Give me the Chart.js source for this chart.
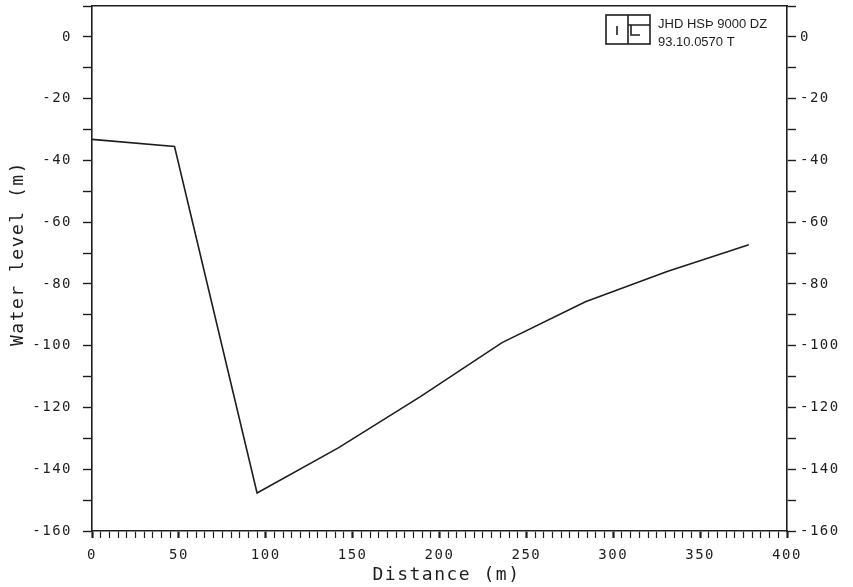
<!DOCTYPE html>
<html>
<head>
<meta charset="utf-8">
<script src="https://cdn.jsdelivr.net/npm/chart.js@4/dist/chart.umd.min.js"></script>
<style>
html,body{margin:0;padding:0;background:#fff;}
#wrap{width:853px;height:587px;}
</style>
</head>
<body>
<div id="wrap"><canvas id="c" width="853" height="587"></canvas></div>
<script>
const distances = [0, 47.5, 95, 142, 189, 236, 284, 331, 378];
const waterLevels = [-33.2, -35.5, -147.7, -133, -116.5, -99, -85.8, -76, -67.3];
const xTickLabelsEvery = 50;
const yTickLabelsEvery = 20;
const xTitle = 'Distance (m)';
const yTitle = 'Water level (m)';
const stampLine1 = 'JHD HSÞ 9000 DZ';
const stampLine2 = '93.10.0570 T';

const MONO = '"DejaVu Sans Mono", monospace';
const INK = '#1e1e1e';

function shiftTitle(scale, dx, dy) {
  if (scale._shifted) return;
  const orig = scale.drawTitle.bind(scale);
  scale.drawTitle = function () {
    const ctx = this.ctx;
    ctx.save();
    ctx.translate(dx, dy);
    orig();
    ctx.restore();
  };
  scale._shifted = true;
}

const spacingPlugin = {
  id: 'spacing',
  afterLayout(chart) {
    shiftTitle(chart.scales.y, 0, -15);
    shiftTitle(chart.scales.x, 7, 0);
  },
  beforeDraw(chart) {
    chart.ctx.fillStyle = '#fff';
    chart.ctx.fillRect(0, 0, chart.width, chart.height);
    chart.ctx.letterSpacing = '1.5px';
  },
  afterDraw(chart) {
    const ctx = chart.ctx;
    ctx.save();
    ctx.letterSpacing = '0px';
    ctx.strokeStyle = INK;
    ctx.lineWidth = 1.6;
    // stamp logo
    ctx.strokeRect(606, 15, 44, 29);
    ctx.beginPath();
    ctx.moveTo(628, 15); ctx.lineTo(628, 44);
    ctx.moveTo(617, 26); ctx.lineTo(617, 35);
    ctx.moveTo(628, 25); ctx.lineTo(650, 25);
    ctx.moveTo(631, 25); ctx.lineTo(631, 35);
    ctx.lineTo(640, 35);
    ctx.stroke();
    ctx.fillStyle = INK;
    ctx.font = '13px "Liberation Sans", Arial, sans-serif';
    ctx.textBaseline = 'middle';
    ctx.textAlign = 'left';
    ctx.fillText(stampLine1, 658, 24);
    ctx.fillText(stampLine2, 658, 42);
    ctx.restore();
  }
};

const points = distances.map((d, i) => ({x: d, y: waterLevels[i]}));

function fixV(w) {
  return function (s) { s.width = w; s.paddingTop = 0; s.paddingBottom = 0; };
}
function fixH(h) {
  return function (s) { s.height = h; s.paddingLeft = 0; s.paddingRight = 0; };
}

new Chart(document.getElementById('c'), {
  type: 'line',
  data: {
    datasets: [{
      data: points,
      borderColor: INK,
      borderWidth: 1.6,
      pointRadius: 0,
      tension: 0,
      fill: false,
      xAxisID: 'x',
      yAxisID: 'y'
    }]
  },
  options: {
    responsive: false,
    animation: false,
    devicePixelRatio: 1,
    layout: {padding: 0},
    plugins: {legend: {display: false}, tooltip: {enabled: false}},
    scales: {
      x: {
        type: 'linear', position: 'bottom', min: 0, max: 400,
        afterFit: fixH(56),
        border: {display: true, color: INK, width: 1.6},
        grid: {
          drawOnChartArea: false, drawTicks: true, tickLength: 7,
          tickColor: INK,
          tickWidth: (c) => (c.tick && c.tick.value % xTickLabelsEvery === 0) ? 2.2 : 1.2
        },
        ticks: {
          stepSize: 5, autoSkip: false, maxRotation: 0, padding: 9,
          color: INK, font: {family: MONO, size: 14},
          callback: (v) => (v % xTickLabelsEvery === 0) ? String(v) : ''
        },
        title: {display: true, text: xTitle, color: INK, font: {family: MONO, size: 18}, padding: {top: 0, bottom: 1}}
      },
      x2: {
        type: 'linear', position: 'top', min: 0, max: 400,
        afterFit: fixH(6),
        border: {display: true, color: INK, width: 1.6},
        grid: {display: false, drawTicks: false},
        ticks: {display: false}
      },
      y: {
        type: 'linear', position: 'left', min: -160, max: 10,
        afterFit: fixV(92),
        border: {display: true, color: INK, width: 1.6},
        grid: {drawOnChartArea: false, drawTicks: true, tickLength: 9, tickColor: INK, tickWidth: 1.4},
        ticks: {
          stepSize: 10, autoSkip: false, padding: 11,
          color: INK, font: {family: MONO, size: 14},
          callback: (v) => (v % yTickLabelsEvery === 0) ? String(v) : ''
        },
        title: {display: true, text: yTitle, color: INK, font: {family: MONO, size: 18}, padding: {top: 8, bottom: 0}}
      },
      y2: {
        type: 'linear', position: 'right', min: -160, max: 10,
        afterFit: fixV(66),
        border: {display: true, color: INK, width: 1.6},
        grid: {drawOnChartArea: false, drawTicks: true, tickLength: 9, tickColor: INK, tickWidth: 1.4},
        ticks: {
          stepSize: 10, autoSkip: false, padding: 4,
          color: INK, font: {family: MONO, size: 14},
          callback: (v) => (v % yTickLabelsEvery === 0) ? String(v) : ''
        }
      }
    }
  },
  plugins: [spacingPlugin]
});
</script>
</body>
</html>
